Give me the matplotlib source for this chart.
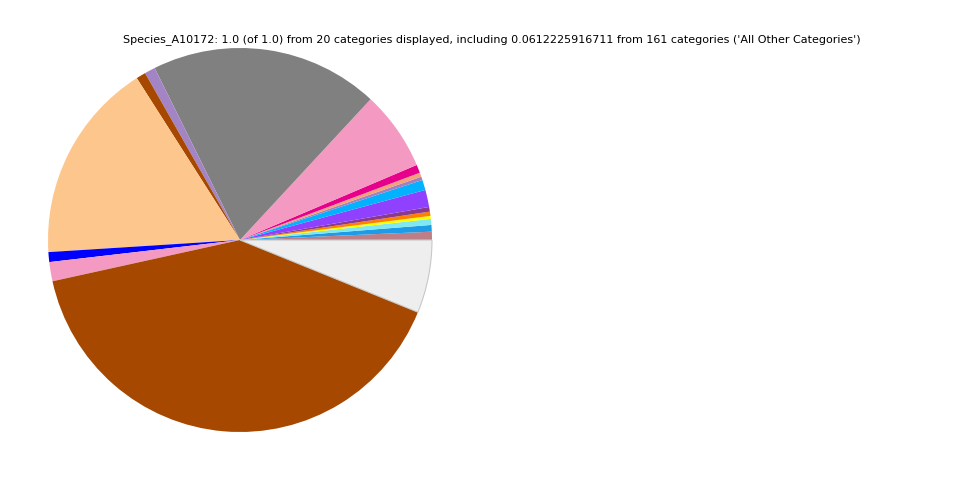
import matplotlib
matplotlib.use("Agg")
import matplotlib.pyplot as plt

# slice fractions, counterclockwise from 3 o'clock
fractions = [0.0069, 0.0056, 0.0050, 0.0025, 0.0036, 0.0039, 0.0144, 0.0086,
             0.0029, 0.0035, 0.0069, 0.0669, 0.1920, 0.0090, 0.0080, 0.1694,
             0.0083, 0.0161, 0.4034, 0.0612225916711]
colors = ["#bc7f88", "#1e9be6", "#7fe8f0", "#ffff00", "#ff8000", "#8b3a8b",
          "#9040ff", "#00b2ff", "#a080c0", "#f4a07a", "#e7008c", "#f49ac2",
          "#808080", "#a385c6", "#a64800", "#fdc68c", "#0000ff", "#f49ac2",
          "#a64800", "#eeeeee"]
title = ("Species_A10172: 1.0 (of 1.0) from 20 categories displayed, including "
         "0.0612225916711 from 161 categories ('All Other Categories')")

fig = plt.figure(figsize=(9.6, 4.8), dpi=100)
ax = fig.add_axes([48 / 960, 48 / 480, 384 / 960, 384 / 480])
wedges, _ = ax.pie(fractions, colors=colors, startangle=0, counterclock=True,
                   wedgeprops={"linewidth": 0})
wedges[-1].set_edgecolor("#c8c8c8")
wedges[-1].set_linewidth(0.8)
ax.set_xlim(-1, 1)
ax.set_ylim(-1, 1)
ax.set_aspect("equal")
ax.axis("off")

fig.text(492 / 960, 1 - 40 / 480, title, ha="center", va="center", fontsize=8)

fig.savefig("out.png", dpi=100)
